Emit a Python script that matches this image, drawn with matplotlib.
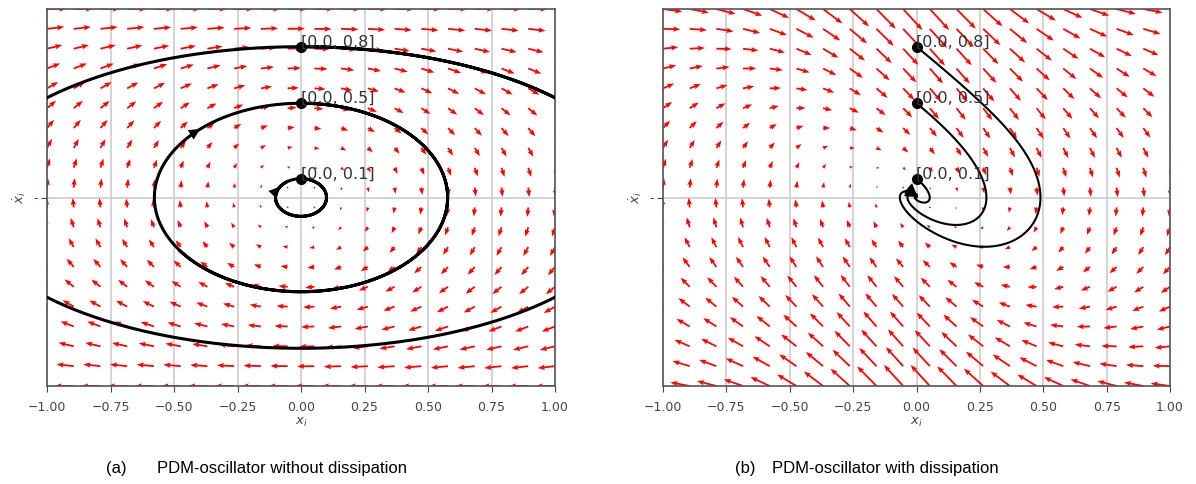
import numpy as np
import matplotlib.pyplot as plt

# PDM (Mathews-Lakshmanan type) oscillator parameters
OMEGA = 1.0
LAM = 1.0
GAMMA = 1.1      # dissipation strength
DAMP_POW = 3     # position dependence of the dissipation

# initial conditions [x, xdot]
starts = [[0.0, 0.1], [0.0, 0.5], [0.0, 0.8]]
# time at which the direction arrow sits on each orbit
arrow_t_free = [5.35, 6.38, 7.5]
arrow_t_damped = [7.2, 7.5, 7.8]
t_free = 12.0
t_damped = 7.8

ticks = [-1.00, -0.75, -0.50, -0.25, 0.00, 0.25, 0.50, 0.75, 1.00]
captions = ["(a)", "(b)"]
titles = ["PDM-oscillator without dissipation", "PDM-oscillator with dissipation"]


def field_free(x, v):
    return v, (LAM * x * v**2 - OMEGA**2 * x) / (1 + LAM * x**2)


def field_damped(x, v):
    dx, dv = field_free(x, v)
    return dx, dv - GAMMA * v / (1 + LAM * x**2) ** DAMP_POW


def rk4(f, x0, v0, t_end, dt=0.005):
    n = int(round(t_end / dt))
    xs = np.empty(n + 1)
    vs = np.empty(n + 1)
    xs[0], vs[0] = x0, v0
    for i in range(n):
        x, v = xs[i], vs[i]
        k1 = f(x, v)
        k2 = f(x + dt / 2 * k1[0], v + dt / 2 * k1[1])
        k3 = f(x + dt / 2 * k2[0], v + dt / 2 * k2[1])
        k4 = f(x + dt * k3[0], v + dt * k3[1])
        xs[i + 1] = x + dt / 6 * (k1[0] + 2 * k2[0] + 2 * k3[0] + k4[0])
        vs[i + 1] = v + dt / 6 * (k1[1] + 2 * k2[1] + 2 * k3[1] + k4[1])
    return xs, vs


fig = plt.figure(figsize=(11.96, 4.84), dpi=100)
ax1 = fig.add_axes([47 / 1196, 98 / 484, 508 / 1196, 377 / 484])
ax2 = fig.add_axes([663 / 1196, 98 / 484, 507 / 1196, 377 / 484])

grid = np.linspace(-1, 1, 20)
X, Y = np.meshgrid(grid, grid)

panels = [(ax1, field_free, t_free, arrow_t_free, 2.2),
          (ax2, field_damped, t_damped, arrow_t_damped, 1.5)]

for ax, f, t_end, arrow_t, lw in panels:
    U, V = f(X, Y)
    ax.quiver(X, Y, U, V, color='red', scale=5.2, scale_units='inches',
              width=0.0035, headwidth=3, headlength=4, headaxislength=3.5,
              zorder=2)
    dt = 0.005
    for (x0, v0), ta in zip(starts, arrow_t):
        xs, vs = rk4(f, x0, v0, t_end, dt)
        ax.plot(xs, vs, color='black', lw=lw, zorder=3)
        # arrow head pointing along the flow at time ta
        k = int(round(ta / dt))
        dx, dv = f(xs[k], vs[k])
        norm = np.hypot(dx, dv)
        tail = (xs[k] - 0.05 * dx / norm, vs[k] - 0.05 * dv / norm)
        ax.annotate('', xy=(xs[k], vs[k]), xytext=tail,
                    arrowprops=dict(arrowstyle='-|>', color='black', lw=0,
                                    mutation_scale=20, shrinkA=0, shrinkB=0),
                    zorder=4, annotation_clip=True)
        ax.plot(x0, v0, 'o', color='black', ms=7, zorder=5)
        ax.text(x0, v0, str([x0, v0]), fontsize=11.5, color='#333333', zorder=6)

    ax.set_xlim(-1, 1)
    ax.set_ylim(-1, 1)
    ax.set_xticks(ticks)
    ax.set_xticklabels([f"{t:.2f}".replace('-', '\u2212') for t in ticks])
    ax.set_yticks([0])
    ax.set_yticklabels(['-'])
    ax.grid(True, color='#cccccc', lw=1.2, zorder=0)
    ax.set_axisbelow(True)
    ax.tick_params(labelsize=9, labelcolor='#444444', color='#444444',
                   length=4.5, pad=6)
    ax.tick_params(axis='y', pad=2)
    for s in ax.spines.values():
        s.set_color('#555555')
        s.set_linewidth(1.2)
    ax.set_xlabel('$x_i$', fontsize=9.5, color='#444444', labelpad=2)
    ax.set_ylabel('$\\dot{x}_i$', fontsize=9.5, color='#444444', labelpad=4)

fig.text(106 / 1196, 1 - 473 / 484, captions[0], fontsize=12, family='Liberation Sans')
fig.text(157 / 1196, 1 - 473 / 484, titles[0], fontsize=12, family='Liberation Sans')
fig.text(735 / 1196, 1 - 473 / 484, captions[1], fontsize=12, family='Liberation Sans')
fig.text(772 / 1196, 1 - 473 / 484, titles[1], fontsize=12, family='Liberation Sans')

fig.savefig('out.png', dpi=100)
